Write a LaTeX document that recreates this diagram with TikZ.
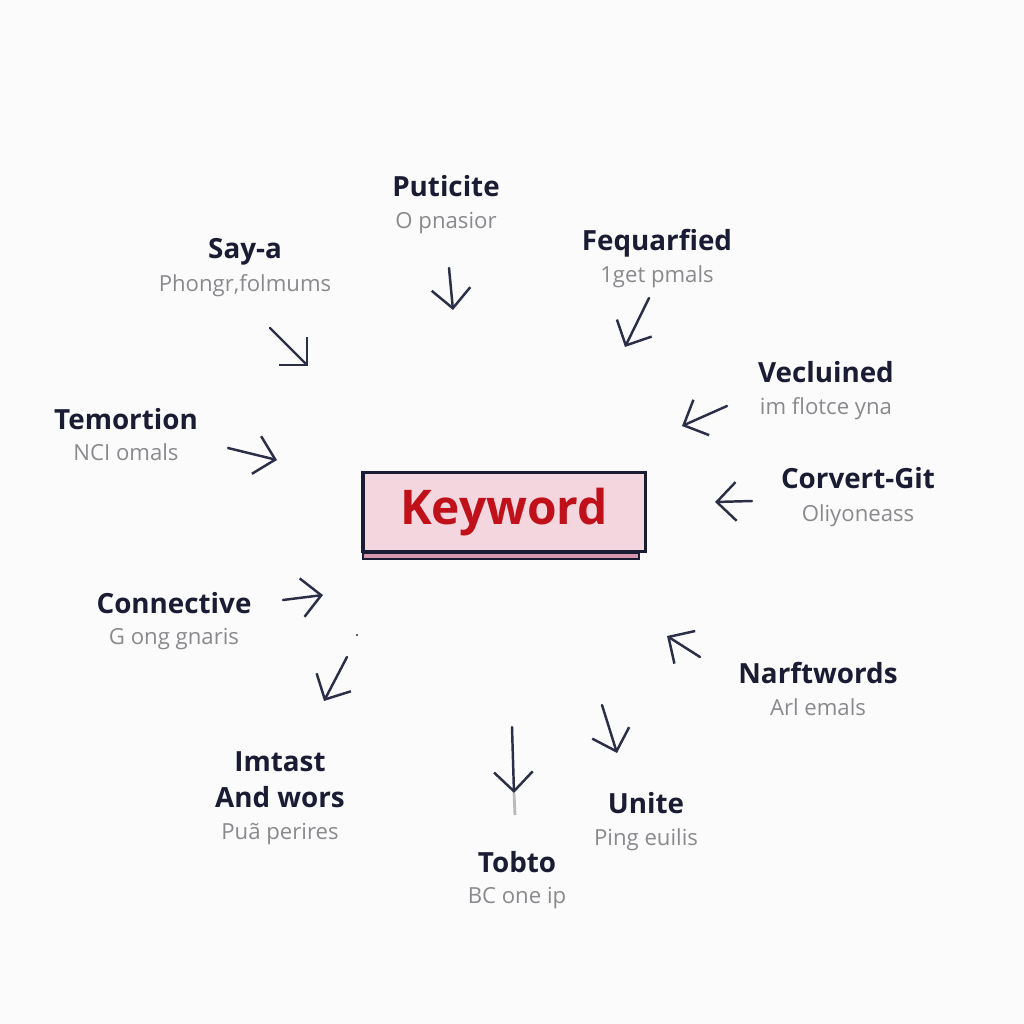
\documentclass[tikz,border=0pt]{standalone}
\usepackage{fontspec}
\setmainfont{Open Sans}
\usepackage{xcolor}
\usetikzlibrary{arrows.meta, positioning, calc}
\definecolor{InkNavy}{RGB}{26, 28, 51}
\definecolor{SubGray}{RGB}{138, 138, 142}
\definecolor{ArrowInk}{RGB}{42, 46, 70}
\definecolor{KeyPink}{RGB}{243, 214, 222}
\definecolor{KeyShade}{RGB}{214, 150, 172}
\definecolor{KeyRed}{RGB}{192, 16, 26}
\definecolor{PaperWhite}{RGB}{251, 251, 251}
\definecolor{TailGray}{RGB}{185, 185, 190}
\tikzset{
  word/.style={font=\fontsize{7.9}{10.3}\selectfont\bfseries, text=InkNavy,
    inner sep=1pt, align=center},
  gloss/.style={font=\fontsize{6.3}{7.3}\selectfont, text=SubGray, inner sep=1pt},
  keybox/.style={rectangle, minimum width=2.82cm, minimum height=0.79cm,
    draw=InkNavy, line width=0.9pt, fill=KeyPink, text=KeyRed,
    font=\fontsize{13.6}{16}\selectfont\bfseries},
  arr/.style={-{Straight Barb[length=5.5pt, width=11pt]}, line width=0.7pt,
    color=ArrowInk, line cap=round},
}
\begin{document}
\begin{tikzpicture}[x=0.01cm, y=-0.01cm]
  \useasboundingbox (0,0) rectangle (1024,1024);
  \fill[PaperWhite] (0,0) rectangle (1024,1024);

  % centre keyword
  \node[keybox] (kw) at (504,512) {Keyword};
  \draw[fill=KeyShade, draw=InkNavy, line width=0.6pt]
    ($(kw.south west)+(2,0)$) rectangle ($(kw.south east)+(-8,6)$);

  % words round the keyword
  \node[word, anchor=base] (put) at (446,196) {Puticite};
  \node[gloss, below=0.32cm of put.base, anchor=base] (putG) {O pnasior};
  \node[word, anchor=base] (say) at (245,258) {Say-a};
  \node[gloss, below=0.33cm of say.base, anchor=base] (sayG) {Phongr,folmums};
  \node[word, anchor=base] (feq) at (657,250) {Fequarfied};
  \node[gloss, below=0.32cm of feq.base, anchor=base] (feqG) {1get pmals};
  \node[word, anchor=base] (vec) at (826,382) {Vecluined};
  \node[gloss, below=0.32cm of vec.base, anchor=base] (vecG) {im flotce yna};
  \node[word, anchor=base] (tem) at (126,429) {Temortion};
  \node[gloss, below=0.31cm of tem.base, anchor=base] (temG) {NCI omals};
  \node[word, anchor=base] (cor) at (858,488) {Corvert-Git};
  \node[gloss, below=0.33cm of cor.base, anchor=base] (corG) {Oliyoneass};
  \node[word, anchor=base] (con) at (174,613) {Connective};
  \node[gloss, below=0.31cm of con.base, anchor=base] (conG) {G ong gnaris};
  \node[word] (imt) at (280,780) {Imtast\\And wors};
  \node[gloss, below=1.8pt of imt] (imtG) {Puã perires};
  \node[word, anchor=base] (nar) at (818,683) {Narftwords};
  \node[gloss, below=0.32cm of nar.base, anchor=base] (narG) {Arl emals};
  \node[word, anchor=base] (uni) at (646,813) {Unite};
  \node[gloss, below=0.32cm of uni.base, anchor=base] (uniG) {Ping euilis};
  \node[word, anchor=base] (tob) at (517,872) {Tobto};
  \node[gloss, below=0.31cm of tob.base, anchor=base] (tobG) {BC one ip};

  % arrow ends
  \coordinate (put-s) at (449,268); \coordinate (put-e) at (453,310);
  \coordinate (say-s) at (270,328); \coordinate (say-e) at (308,366);
  \coordinate (feq-s) at (649,298); \coordinate (feq-e) at (625,347);
  \coordinate (vec-s) at (727,406); \coordinate (vec-e) at (682,426);
  \coordinate (tem-s) at (228,448); \coordinate (tem-e) at (277,460);
  \coordinate (cor-s) at (752,501); \coordinate (cor-e) at (715,502);
  \coordinate (con-s) at (283,600); \coordinate (con-e) at (323,595);
  \coordinate (imt-s) at (347,657); \coordinate (imt-e) at (324,701);
  \coordinate (tob-s) at (512,727); \coordinate (tob-e) at (514,793);
  \coordinate (tob-t) at (515,815);
  \coordinate (nar-s) at (700,657); \coordinate (nar-e) at (667,636);
  \coordinate (uni-s) at (602,705); \coordinate (uni-e) at (617,753);
  \coordinate (dot) at (357,635);

  \draw[arr] (put-s) -- (put-e);
  \draw[arr] (say-s) -- (say-e);
  \draw[arr] (feq-s) -- (feq-e);
  \draw[arr] (vec-s) -- (vec-e);
  \draw[arr] (tem-s) -- (tem-e);
  \draw[arr] (cor-s) -- (cor-e);
  \draw[arr] (con-s) -- (con-e);
  \draw[arr] (imt-s) -- (imt-e);
  \draw[TailGray, line width=0.8pt] (tob-e) -- (tob-t);
  \draw[arr] (tob-s) -- (tob-e);
  \draw[arr] (nar-s) -- (nar-e);
  \draw[arr] (uni-s) -- (uni-e);
  \fill[ArrowInk] (dot) circle (1.2);
\end{tikzpicture}
\end{document}
